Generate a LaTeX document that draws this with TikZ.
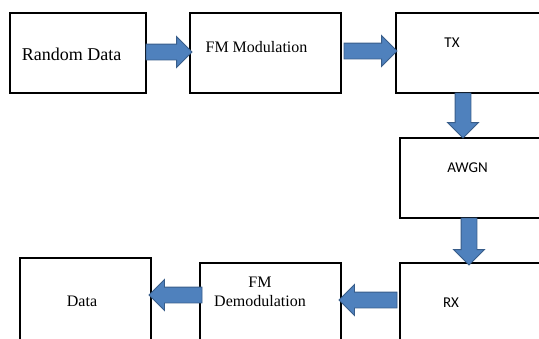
\documentclass[tikz,border=0pt]{standalone}
\usepackage{fontspec}
\setmainfont{Liberation Serif}
\newfontfamily\calibri{Carlito}
\usetikzlibrary{positioning, calc, shapes.arrows}
\definecolor{arrowfill}{RGB}{79,129,189}
\definecolor{arrowedge}{RGB}{56,93,138}
\tikzset{
  block/.style={
	draw=black, % black frame
	line width=1.2pt,
	minimum height=80pt,
	inner sep=0pt, outer sep=0pt,
	anchor=north west, % boxes are placed by their top left corner
  },
  serif/.style={font=\fontsize{16}{19}\selectfont, inner sep=0pt, anchor=base},
  sans/.style={font=\calibri\fontsize{15}{18}\selectfont, inner sep=0pt, anchor=base},
  fatarrow/.style={
	single arrow,
	draw=arrowedge, fill=arrowfill,
	line width=0.9pt,
	inner xsep=0pt, inner ysep=7.5pt, % shaft width
	outer sep=0pt,
	minimum width=0pt,
	single arrow head extend=7.5pt, % head sticks out on both sides
	anchor=tail,
  }
}
% block arrow from #1 to #2
\newcommand{\blockarrow}[2]{%
  \path let \p1=#1, \p2=#2,
	\n1={veclen(\x2-\x1,\y2-\y1)}, \n2={atan2(\y2-\y1,\x2-\x1)} in
	node[fatarrow, minimum height=\n1, rotate=\n2] at (\p1) {};%
}

\begin{document}
\begin{tikzpicture}[x=1pt, y=-1pt]
	  \useasboundingbox (0,0) rectangle (539,338);
	  \clip (0,0) rectangle (539,338);

	  % boxes
	  \node[block, minimum width=136pt] (rnd) at (10,13) {};
	  \node[block, minimum width=151pt, right=44pt of rnd.north east, anchor=north west] (fmmod) {};
	  \node[block, minimum width=170pt, right=55pt of fmmod.north east, anchor=north west] (tx) {};
	  \node[block, minimum width=170pt] (awgn) at (400,138) {};
	  \node[block, minimum width=170pt] (rx) at (400,263) {};
	  \node[block, minimum width=141pt] (fmdemod) at (200,263) {};
	  \node[block, minimum width=131pt, minimum height=90pt] (data) at (20,258) {};

	  % texts
	  \node[serif, font=\fontsize{18}{21}\selectfont] (rndtxt) at (71.5,60) {Random Data};
	  \node[serif] (fmmodtxt) at (256.5,52) {FM Modulation};
	  \node[sans] (txtxt) at (452,47) {TX};
	  \node[sans] (awgntxt) at (467.5,172) {AWGN};
	  \node[sans] (rxtxt) at (451,307) {RX};
	  \node[serif, anchor=center, align=center] (fmdemodtxt) at (260,292) {FM\\Demodulation};
	  \node[serif] (datatxt) at (82,306.5) {Data};

	  % arrows
	  \blockarrow{([yshift=1pt]rnd.east)}{([yshift=1pt,xshift=2pt]fmmod.west)}
	  \blockarrow{([yshift=2pt,xshift=3pt]fmmod.east)}{([yshift=2pt,xshift=1pt]tx.west)}
	  \blockarrow{([xshift=67pt]tx.south west)}{([xshift=67pt]tx.south west |- awgn.north)}
	  \blockarrow{([xshift=69pt]awgn.south west)}{([xshift=69pt,yshift=-2pt]awgn.south west |- rx.north)}
	  \blockarrow{([yshift=3pt,xshift=-3pt]rx.west)}{([yshift=3pt,xshift=-2pt]fmdemod.east)}
	  \blockarrow{([yshift=8pt,xshift=2pt]fmdemod.west)}{([yshift=8pt,xshift=-2pt]fmdemod.west -| data.east)}
\end{tikzpicture}
\end{document}
